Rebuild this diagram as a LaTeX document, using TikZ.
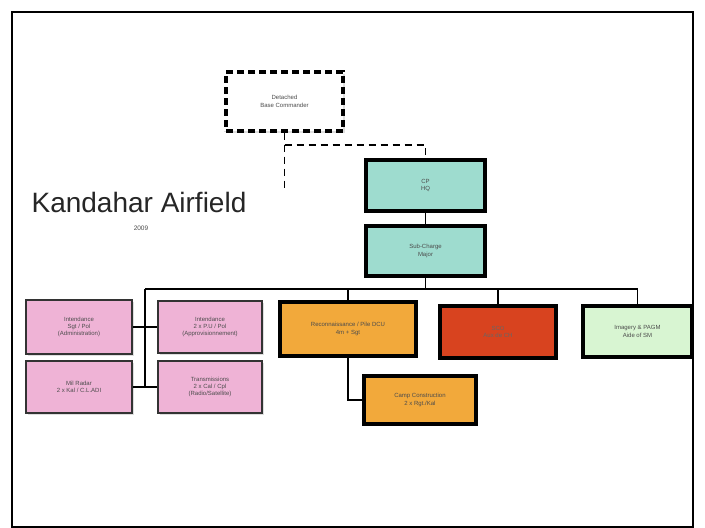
\documentclass[tikz,border=0pt]{standalone}
\usepackage{fontspec}
\setmainfont{Liberation Sans}
\usepackage{tikz}
\usetikzlibrary{shadows}

\definecolor{hqteal}{HTML}{9EDCCF}
\definecolor{cellpink}{HTML}{EFB3D6}
\definecolor{cellorange}{HTML}{F2A93B}
\definecolor{cellred}{HTML}{D8431F}
\definecolor{cellgreen}{HTML}{D8F5D2}

\begin{document}
\begin{tikzpicture}[x=1pt,y=-1pt,
    unit/.style={draw=black,line width=3.2pt,align=center,inner sep=1pt,
      font=\fontsize{6}{7.4}\selectfont,text=black!70,
      drop shadow={shadow xshift=2pt,shadow yshift=-2pt,fill=black!25}},
    cell/.style={unit,line width=2pt,draw=black!80},
    link/.style={line width=1.5pt,black}]
        % --- cadre ---
        \fill[white] (0,0) rectangle (705,528);
        \draw[line width=1.6pt] (12,12) rectangle (693,527);

        % --- titre ---
        \node[font=\fontsize{28}{30}\selectfont,text=black!85] (title) at (139,202) {Kandahar Airfield};
        \node[font=\fontsize{6.5}{8}\selectfont,text=black!70] (year) at (141,228) {2009};

        % --- commandement ---
        \node[unit,dash pattern=on 7pt off 4pt,fill=white,minimum width=117pt,minimum height=59pt] (detcmd) at (284.5,101.5) {Detached\\Base Commander};
        \node[unit,fill=hqteal,minimum width=119pt,minimum height=51pt] (hq) at (425.5,185.5) {CP\\HQ};
        \node[unit,fill=hqteal,minimum width=119pt,minimum height=50pt] (subchg) at (425.5,251) {Sub-Charge\\Major};

        % --- cellules ---
        \node[cell,fill=cellpink,minimum width=106pt,minimum height=54pt] (admin) at (79,327) {Intendance\\Sgt / Pol\\(Administration)};
        \node[cell,fill=cellpink,minimum width=104pt,minimum height=52pt] (supply) at (210,327) {Intendance\\2 x P.U / Pol\\(Approvisionnement)};
        \node[cell,fill=cellpink,minimum width=106pt,minimum height=52pt] (radar) at (79,387) {Mil Radar\\2 x Kal / C.L.ADI};
        \node[cell,fill=cellpink,minimum width=104pt,minimum height=52pt] (signals) at (210,387) {Transmissions\\2 x Cal / Cpl\\(Radio/Satellite)};
        \node[unit,fill=cellorange,minimum width=136pt,minimum height=54pt] (recce) at (348,329) {Reconnaissance / Pile DCU\\4m + Sgt};
        \node[unit,fill=cellorange,minimum width=112pt,minimum height=48pt] (camp) at (420,400) {Camp Construction\\2 x Rgt./Kal};
        \node[unit,fill=cellred,text=black!60,minimum width=116pt,minimum height=52pt] (sco) at (498,332) {SCO\\Aux de CH};
        \node[unit,fill=cellgreen,minimum width=109pt,minimum height=51pt] (imagery) at (637.5,331.5) {Imagery \& PAGM\\Aide of SM};

        % --- liaisons ---
        \coordinate (bus) at (425.5,289);
        \coordinate (lbus) at (145,289);
        \coordinate (lend) at (145,387);
        \coordinate (detend) at (284.5,190);
        \draw[link,dash pattern=on 7pt off 5pt] (detcmd.south) -- (detend);
        \draw[link,dash pattern=on 7pt off 5pt] (detcmd.south |- 0,145) -- (hq.north |- 0,145) -- (hq.north);
        \draw[link] (hq) -- (subchg);
        \draw[link] (subchg) -- (bus);
        \draw[link] (lbus) -- (imagery.north |- bus);
        \draw[link] (lbus) -- (lend);
        \draw[link] (admin.east) -- (supply.west);
        \draw[link] (radar.east) -- (signals.west);
        \draw[link] (recce.north |- bus) -- (recce.north);
        \draw[link] (sco.north |- bus) -- (sco.north);
        \draw[link] (imagery.north |- bus) -- (imagery.north);
        \draw[link] (recce.south) |- (camp.west);
      \end{tikzpicture}
\end{document}
